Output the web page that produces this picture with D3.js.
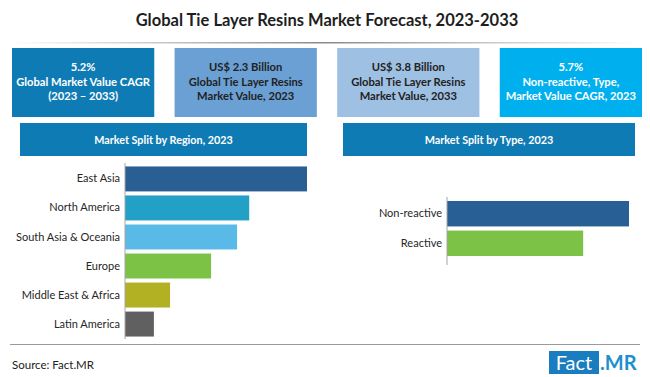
<!DOCTYPE html>
<html><head><meta charset="utf-8">
<script src="https://cdn.jsdelivr.net/npm/d3@7"></script>
<style>body{margin:0;background:#fff;} svg{display:block}</style>
</head><body>
<svg id="c" width="650" height="377"></svg>
<script>
const titleText = "Global Tie Layer Resins Market Forecast, 2023-2033";
const statLines = [
  ["5.2%", "Global Market Value CAGR", "(2023 – 2033)"],
  ["US$ 2.3 Billion", "Global Tie Layer Resins", "Market Value, 2023"],
  ["US$ 3.8 Billion", "Global Tie Layer Resins", "Market Value, 2033"],
  ["5.7%", "Non-reactive, Type,", "Market Value CAGR, 2023"]
];
const statFill = ["#0f7bb5", "#6aa0d4", "#9ec0e2", "#00b0ee"];
const statInk = ["#ffffff", "#222222", "#222222", "#ffffff"];
const regionTitle = "Market Split by Region, 2023";
const typeTitle = "Market Split by Type, 2023";
const regionCategories = ["East Asia", "North America", "South Asia & Oceania", "Europe", "Middle East & Africa", "Latin America"];
const regionValues = [31.5, 21.5, 19.4, 14.9, 7.8, 5.0];
const regionColors = ["#295f92", "#23a0c5", "#5abae7", "#7cc244", "#b2b023", "#606060"];
const typeCategories = ["Non-reactive", "Reactive"];
const typeValues = [57.2, 42.8];
const typeColors = ["#285f94", "#7cc246"];
const sourceText = "Source: Fact.MR";

const svg = d3.select("#c");
const F = "Lato, 'Open Sans', sans-serif";

// title
svg.append("text").attr("x", 327).attr("y", 26).attr("text-anchor", "middle")
  .attr("font-family", F).attr("font-weight", 700).attr("font-size", 16.5)
  .attr("fill", "#1e1e1e").text(titleText);

const defs = svg.append("defs");
const g1 = defs.append("linearGradient").attr("id", "tl");
g1.append("stop").attr("offset", "0%").attr("stop-color", "#ffffff");
g1.append("stop").attr("offset", "50%").attr("stop-color", "#8a8a8a");
g1.append("stop").attr("offset", "100%").attr("stop-color", "#ffffff");
svg.append("rect").attr("x", 10).attr("y", 42).attr("width", 630).attr("height", 1.5).attr("fill", "url(#tl)");

// stat boxes
const bx = d3.scaleBand().domain(d3.range(4)).range([12, 642]).paddingInner(0.125);
const boxes = svg.selectAll("g.box").data(statLines).join("g").attr("class", "box")
  .attr("transform", (d, i) => `translate(${bx(i)},48)`);
boxes.append("rect").attr("width", bx.bandwidth()).attr("height", 69)
  .attr("fill", (d, i) => statFill[i]);
boxes.each(function(d, i) {
  const t = d3.select(this).append("text").attr("text-anchor", "middle")
    .attr("font-family", F).attr("font-weight", 700).attr("font-size", 11.2)
    .attr("fill", statInk[i]);
  d.forEach((line, k) => t.append("tspan").attr("x", bx.bandwidth() / 2).attr("y", 23 + k * 14.5).text(line));
});

// section headers
const headers = [{x: 20, w: 287, t: regionTitle}, {x: 343, w: 292, t: typeTitle}];
headers.forEach(h => {
  svg.append("rect").attr("x", h.x).attr("y", 123).attr("width", h.w).attr("height", 33).attr("fill", "#0f7bb5");
  svg.append("text").attr("x", h.x + h.w / 2).attr("y", 143.5).attr("text-anchor", "middle")
    .attr("font-family", F).attr("font-weight", 700).attr("font-size", 10.8).attr("fill", "#fff").text(h.t);
});

function barChart(cats, vals, cols, x0, x1, y0, y1, ax0, ax1) {
  const x = d3.scaleLinear().domain([0, d3.max(vals)]).range([x0, x1]);
  const y = d3.scaleBand().domain(cats).range([y0, y1]).paddingInner(0.14).paddingOuter(0.05);
  const g = svg.append("g");
  g.selectAll("rect").data(cats).join("rect")
    .attr("x", x(0)).attr("y", d => y(d))
    .attr("width", (d, i) => x(vals[i]) - x(0)).attr("height", y.bandwidth())
    .attr("fill", (d, i) => cols[i]);
  const ax = svg.append("g").attr("transform", `translate(${x0},0)`)
    .call(d3.axisLeft(y).tickSize(0).tickPadding(5));
  ax.select(".domain").remove();
  ax.selectAll("text").attr("font-family", F).attr("font-size", 11).attr("fill", "#262626");
  svg.append("line").attr("x1", x0).attr("x2", x0).attr("y1", ax0).attr("y2", ax1)
    .attr("stroke", "#a6a6a6").attr("stroke-width", 1);
}
barChart(regionCategories, regionValues, regionColors, 125, 307, 165, 338, 163, 339);
barChart(typeCategories, typeValues, typeColors, 447, 629, 199.5, 257.5, 197, 265);

// footer
svg.append("line").attr("x1", 10).attr("x2", 640).attr("y1", 344.5).attr("y2", 344.5)
  .attr("stroke", "#9a9a9a").attr("stroke-width", 1);
svg.append("text").attr("x", 12).attr("y", 369).attr("font-family", F).attr("font-size", 11.5)
  .attr("fill", "#222").text(sourceText);
svg.append("rect").attr("x", 549).attr("y", 351).attr("width", 50).attr("height", 23).attr("fill", "#1a7dbf");
svg.append("text").attr("x", 574).attr("y", 370).attr("text-anchor", "middle").attr("font-family", F)
  .attr("font-size", 20).attr("fill", "#fff").text("Fact");
svg.append("text").attr("x", 600).attr("y", 370).attr("font-family", F).attr("font-weight", 700)
  .attr("font-size", 20).attr("fill", "#1e90d0").text(".MR");
</script>
</body></html>
